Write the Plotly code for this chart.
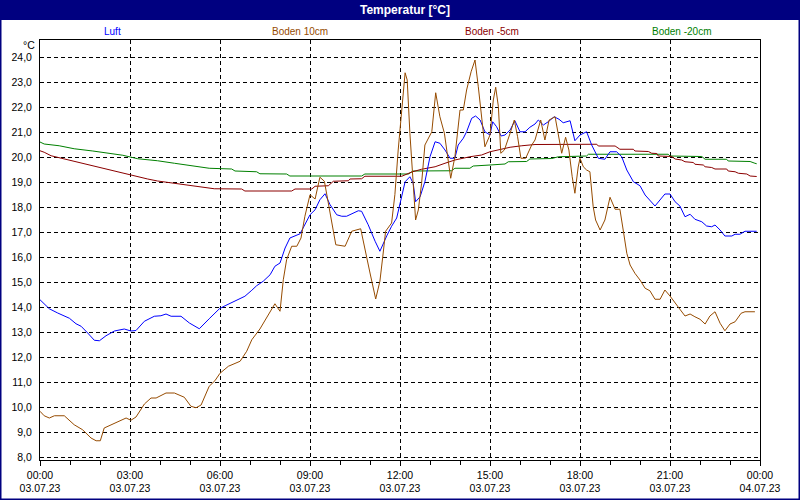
import pandas as pd
import plotly.graph_objects as go

# ---- data (hours after 03.07.23 00:00, temperature in °C) ----
luft_h = [0, 0.31, 0.59, 0.98, 1.2, 1.37, 1.59, 1.81, 1.98, 2.2, 2.48, 2.81, 3.03, 3.2, 3.48, 3.81, 4.03, 4.2, 4.37, 4.7, 4.98, 5.31, 5.64, 5.98,
          6.17, 6.5, 6.83, 7.06, 7.22, 7.44, 7.67, 7.83, 8.0, 8.17, 8.33, 8.67, 8.83, 9.0, 9.17, 9.33, 9.5, 9.67, 9.89, 10.06, 10.22, 10.39,
          10.61, 10.72, 10.94, 11.17, 11.33, 11.56, 11.72, 11.89, 12.0, 12.17, 12.33, 12.44, 12.52, 12.67, 12.83, 13.0, 13.17, 13.33, 13.5,
          13.67, 13.83, 13.94, 14.11, 14.22, 14.39, 14.52, 14.67, 14.83, 15.0, 15.09, 15.22, 15.37, 15.5, 15.67, 15.83, 16.0, 16.17, 16.33,
          16.5, 16.61, 16.78, 16.94, 17.14, 17.3, 17.44, 17.67, 17.83, 18.0, 18.22, 18.39, 18.61, 18.83, 19.0, 19.22, 19.39, 19.56, 19.78,
          20.0, 20.17, 20.5, 20.83, 21.0, 21.17, 21.33, 21.5, 21.67, 21.83, 22.06, 22.22, 22.39, 22.5, 22.67, 22.83, 23.06, 23.17, 23.33,
          23.5, 23.89]
luft_t = [14.29, 13.93, 13.76, 13.55, 13.33, 13.23, 12.96, 12.67, 12.65, 12.85, 13.04, 13.12, 13.04, 13.06, 13.43, 13.63, 13.65, 13.72, 13.63, 13.63, 13.36, 13.13, 13.53, 13.93,
          14.05, 14.23, 14.43, 14.67, 14.85, 15.03, 15.29, 15.63, 15.76, 16.36, 16.76, 16.93, 17.29, 17.69, 17.89, 18.29, 18.53, 18.09, 17.69, 17.63, 17.63, 17.73,
          17.85, 17.83, 17.29, 16.63, 16.23, 16.85, 17.23, 17.56, 18.15, 19.01, 19.21, 18.95, 18.21, 18.41, 19.01, 20.01, 20.61, 20.55, 20.28,
          19.95, 19.95, 20.48, 20.75, 21.01, 21.55, 21.64, 21.48, 21.01, 20.88, 21.41, 21.21, 20.84, 20.88, 21.08, 21.45, 21.01, 21.01, 21.19,
          21.32, 21.48, 21.28, 21.41, 21.61, 21.51, 21.37, 21.45, 20.65, 20.88, 21.01, 20.48, 19.95, 19.91, 20.21, 20.21, 20.01, 19.48, 19.01,
          18.85, 18.48, 18.04, 18.52, 18.52, 18.21, 18.04, 17.61, 17.71, 17.51, 17.41, 17.24, 17.21, 17.28, 17.08, 16.84, 16.84, 16.91, 16.91,
          17.03, 17.03]

b10_h = [0, 0.14, 0.31, 0.48, 0.81, 1.14, 1.42, 1.7, 1.87, 2.01, 2.14, 2.48, 2.87, 3.03, 3.2, 3.48, 3.7, 3.87, 4.2, 4.48, 4.81, 5.03, 5.2, 5.37,
         5.64, 5.83, 6.0, 6.28, 6.67, 6.89, 7.06, 7.33, 7.56, 7.83, 8.0, 8.11, 8.22, 8.39, 8.56, 8.7, 8.83, 9.0, 9.17, 9.33, 9.48, 9.67, 9.86,
         10.17, 10.39, 10.69, 10.83, 11.0, 11.19, 11.33, 11.44, 11.52, 11.72, 11.83, 11.94, 12.06, 12.17, 12.24, 12.33, 12.44, 12.52, 12.61,
         12.72, 12.83, 12.94, 13.06, 13.19, 13.33, 13.48, 13.59, 13.69, 13.83, 14.0, 14.11, 14.22, 14.37, 14.5, 14.61, 14.7, 14.83, 15.0,
         15.11, 15.19, 15.28, 15.36, 15.48, 15.67, 15.81, 15.92, 16.03, 16.19, 16.39, 16.5, 16.69, 16.83, 16.97, 17.17, 17.28, 17.39, 17.52,
         17.63, 17.74, 17.83, 17.94, 18.0, 18.11, 18.22, 18.33, 18.44, 18.52, 18.67, 18.83, 19.0, 19.17, 19.33, 19.44, 19.56, 19.67, 19.83,
         20.0, 20.17, 20.33, 20.5, 20.67, 20.83, 21.0, 21.17, 21.33, 21.5, 21.67, 21.83, 22.0, 22.17, 22.33, 22.5, 22.67, 22.83, 23.0, 23.17,
         23.37, 23.5, 23.83]
b10_t = [9.83, 9.65, 9.56, 9.65, 9.65, 9.29, 9.09, 8.76, 8.65, 8.65, 9.16, 9.36, 9.56, 9.47, 9.6, 10.12, 10.36, 10.36, 10.56, 10.56, 10.39, 10.03, 9.97, 10.08,
         10.83, 11.05, 11.35, 11.63, 11.83, 12.23, 12.69, 13.12, 13.56, 14.13, 13.83, 15.09, 15.89, 16.43, 16.43, 16.76, 17.63, 18.49, 18.32, 19.19, 19.03, 17.76, 16.49,
         16.43, 17.03, 17.13, 16.29, 15.36, 14.32, 15.03, 16.16, 17.03, 17.36, 18.5, 20.28, 21.88, 23.37, 23.08, 20.95, 18.95, 17.48, 17.88,
         18.95, 20.48, 20.75, 21.01, 22.57, 21.61, 20.95, 20.01, 19.15, 20.01, 21.88, 21.88, 22.68, 23.41, 23.88, 22.81, 21.88, 20.41, 20.88,
         22.28, 22.79, 22.01, 20.15, 20.28, 20.95, 21.48, 20.81, 19.95, 19.95, 20.48, 20.68, 21.48, 20.68, 21.48, 21.61, 20.81, 20.15, 20.79,
         20.28, 19.21, 18.55, 19.6, 19.95, 19.61, 19.48, 19.41, 18.01, 17.48, 17.08, 17.48, 18.39, 17.91, 17.91, 17.08, 16.15, 15.68, 15.35,
         15.08, 14.75, 14.65, 14.31, 14.31, 14.68, 14.44, 14.15, 13.91, 13.64, 13.72, 13.61, 13.51, 13.32, 13.64, 13.81, 13.35, 13.05, 13.32, 13.41,
         13.75, 13.81, 13.81]

b5_h = [0, 0.14, 0.37, 0.81, 1.14, 1.48, 1.76, 2.14, 2.48, 2.81, 3.14, 3.59, 3.92, 4.59, 5.14, 5.81, 6.72, 6.83, 8.39, 8.5, 9.06, 9.17, 9.61,
        9.78, 10.28, 10.33, 10.72, 10.83, 12.06, 12.39, 12.72, 13.17, 13.5, 13.83, 14.33, 14.72, 15.0, 15.28, 15.67, 16.06, 16.5, 18.56, 18.61,
        19.17, 19.33, 19.78, 19.83, 20.28, 20.39, 20.56, 20.61, 21.06, 21.17, 21.39, 21.5, 21.78, 21.83, 22.11, 22.17, 22.39, 22.5, 22.89,
        22.94, 23.17, 23.28, 23.56, 23.67, 23.89]
b5_t = [20.25, 20.19, 20.05, 19.92, 19.83, 19.73, 19.65, 19.52, 19.44, 19.33, 19.25, 19.12, 19.04, 18.93, 18.83, 18.73, 18.72, 18.64, 18.64, 18.72, 18.72, 18.83, 18.85,
        19.03, 19.05, 19.12, 19.13, 19.23, 19.23, 19.4, 19.51, 19.61, 19.75, 19.88, 20.01, 20.08, 20.21, 20.28, 20.39, 20.45, 20.5, 20.51, 20.44,
        20.44, 20.31, 20.31, 20.24, 20.22, 20.15, 20.14, 20.04, 20.02, 19.92, 19.88, 19.81, 19.78, 19.71, 19.68, 19.61, 19.58, 19.52, 19.52,
        19.44, 19.41, 19.35, 19.32, 19.24, 19.22]

b20_h = [0, 0.14, 0.64, 1.14, 1.76, 2.31, 2.76, 3.26, 3.92, 4.48, 5.09, 5.64, 6.39, 6.5, 7.22, 7.33, 8.22, 8.33, 10.72, 10.83, 12.28, 12.44,
         13.72, 13.83, 14.33, 14.44, 15.0, 15.5, 15.61, 16.22, 16.33, 17.06, 17.28, 18.22, 18.28, 20.94, 21.0, 22.06, 22.17, 22.89, 22.94,
         23.67, 23.83, 23.89]
b20_t = [20.6, 20.52, 20.45, 20.33, 20.24, 20.13, 20.07, 19.93, 19.85, 19.75, 19.65, 19.55, 19.52, 19.44, 19.41, 19.33, 19.32, 19.24, 19.24, 19.32, 19.32, 19.44,
         19.45, 19.55, 19.55, 19.64, 19.68, 19.72, 19.81, 19.82, 19.92, 19.94, 20.01, 20.04, 20.11, 20.11, 20.04, 20.02, 19.91, 19.91, 19.84,
         19.82, 19.75, 19.73]

series_names = ["Luft", "Boden 10cm", "Boden -5cm", "Boden -20cm"]
series_colors = ["#0000FF", "#964B00", "#8B0000", "#008000"]
y_ticks = [8, 9, 10, 11, 12, 13, 14, 15, 16, 17, 18, 19, 20, 21, 22, 23, 24]

base = pd.Timestamp("2023-07-03 00:00")
def tx(hours):
    return [base + pd.Timedelta(hours=h) for h in hours]

W, H = 800, 500
fig = go.Figure()
order = [3, 2, 0, 1]
all_h = [luft_h, b10_h, b5_h, b20_h]
all_t = [luft_t, b10_t, b5_t, b20_t]
for i in order:
    fig.add_trace(go.Scatter(x=tx(all_h[i]), y=all_t[i], mode="lines", name=series_names[i],
                             line=dict(color=series_colors[i], width=1), showlegend=False))

font_main = "Liberation Sans, Arial, sans-serif"
fig.update_layout(
    width=W, height=H,
    margin=dict(l=0, r=0, t=0, b=0, autoexpand=False),
    paper_bgcolor="white", plot_bgcolor="white",
    font=dict(family=font_main, size=10, color="black"),
    xaxis=dict(
        domain=[40 / W, 760 / W],
        range=[base, base + pd.Timedelta(hours=24)],
        type="date", automargin=False,
        dtick=3 * 3600 * 1000, tick0=base,
        tickformat="%H:%M<br>%d.%m.%y",
        showgrid=True, gridcolor="black", griddash="4px,3px", gridwidth=1,
        showline=True, linecolor="black", linewidth=1, mirror=True,
        ticks="outside", ticklen=5, tickcolor="black",
        minor=dict(dtick=3600 * 1000, ticks="outside", ticklen=4, tickcolor="black", showgrid=False),
        tickfont=dict(size=10.5, color="#000000"),
        zeroline=False,
    ),
    yaxis=dict(
        domain=[40 / H, 460 / H],
        range=[7.88, 24.68], automargin=False,
        tickvals=y_ticks,
        ticktext=[f"{v:.1f}".replace(".", ",") for v in y_ticks],
        showgrid=True, gridcolor="black", griddash="4px,3px", gridwidth=1,
        showline=True, linecolor="black", linewidth=1, mirror=True,
        ticks="", ticklabelstandoff=5,
        tickfont=dict(size=10.5, color="#000000"),
        zeroline=False,
    ),
)

shapes = [
    dict(type="rect", xref="paper", yref="paper", x0=0, x1=1, y0=1 - 20 / H, y1=1,
         fillcolor="#000080", line=dict(width=0), layer="below"),
    dict(type="rect", xref="paper", yref="paper", x0=0, x1=1, y0=0, y1=1,
         fillcolor="rgba(0,0,0,0)", line=dict(color="#000080", width=3)),
]
fig.update_layout(shapes=shapes)

ann = [
    dict(text="<b>Temperatur [°C]</b>", x=405 / W, y=1 - 10 / H, xref="paper", yref="paper",
         showarrow=False, font=dict(color="white", size=12, family=font_main), xanchor="center", yanchor="middle"),
    dict(text="°C", x=37 / W, y=1 - 45 / H, xref="paper", yref="paper", showarrow=False,
         xanchor="right", yanchor="middle", font=dict(size=10.5, color="black")),
]
legend_x = [113, 300, 492, 681]
for name, col, lx in zip(series_names, series_colors, legend_x):
    ann.append(dict(text=name, x=lx / W, y=1 - 31 / H, xref="paper", yref="paper", showarrow=False,
                    xanchor="center", yanchor="middle", font=dict(size=10, color=col)))
fig.update_layout(annotations=ann)

fig.write_html("out.html")
